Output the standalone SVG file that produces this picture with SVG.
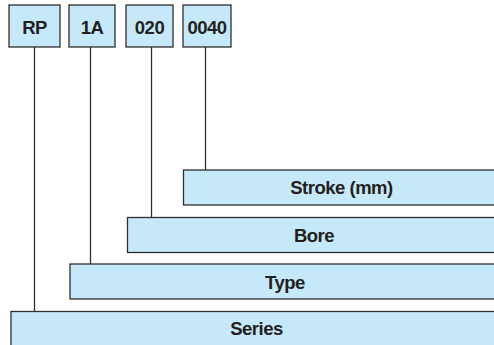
<svg xmlns="http://www.w3.org/2000/svg" width="494" height="345" viewBox="0 0 494 345">
<style>
.box{fill:#c6e9f9;stroke:#2e2e2e;stroke-width:1.3}
.lbl{font-family:"Liberation Sans",Arial,sans-serif;font-weight:bold;font-size:18.5px;fill:#231f20;text-anchor:middle;letter-spacing:-0.5px}
.conn{fill:none;stroke:#2e2e2e;stroke-width:1.3}
</style>
<rect width="494" height="345" fill="#ffffff"/>
<g id="connectors">
<line class="conn" x1="34.5" y1="47" x2="34.5" y2="311"/>
<line class="conn" x1="90.5" y1="47" x2="90.5" y2="264"/>
<line class="conn" x1="151.5" y1="47" x2="151.5" y2="217"/>
<line class="conn" x1="205.5" y1="47" x2="205.5" y2="170"/>
</g>
<g id="code-rp">
<rect class="box" x="9" y="5" width="51" height="42"/>
<text class="lbl" x="34.5" y="33.5">RP</text>
</g>
<g id="code-1a">
<rect class="box" x="69" y="5" width="46" height="42"/>
<text class="lbl" x="92" y="33.5">1A</text>
</g>
<g id="code-020">
<rect class="box" x="126" y="5" width="47" height="42"/>
<text class="lbl" x="149.5" y="33.5">020</text>
</g>
<g id="code-0040">
<rect class="box" x="183" y="5" width="48" height="42"/>
<text class="lbl" x="207" y="33.5">0040</text>
</g>
<g id="bar-stroke">
<rect class="box" x="183.5" y="170" width="320" height="35"/>
<text class="lbl" x="341.5" y="193.5">Stroke (mm)</text>
</g>
<g id="bar-bore">
<rect class="box" x="127.5" y="217.5" width="376" height="35"/>
<text class="lbl" x="314" y="241.5">Bore</text>
</g>
<g id="bar-type">
<rect class="box" x="70" y="264" width="434" height="35"/>
<text class="lbl" x="285" y="288.5">Type</text>
</g>
<g id="bar-series">
<rect class="box" x="11" y="311.5" width="493" height="40"/>
<text class="lbl" x="256.5" y="334.5">Series</text>
</g>
</svg>
